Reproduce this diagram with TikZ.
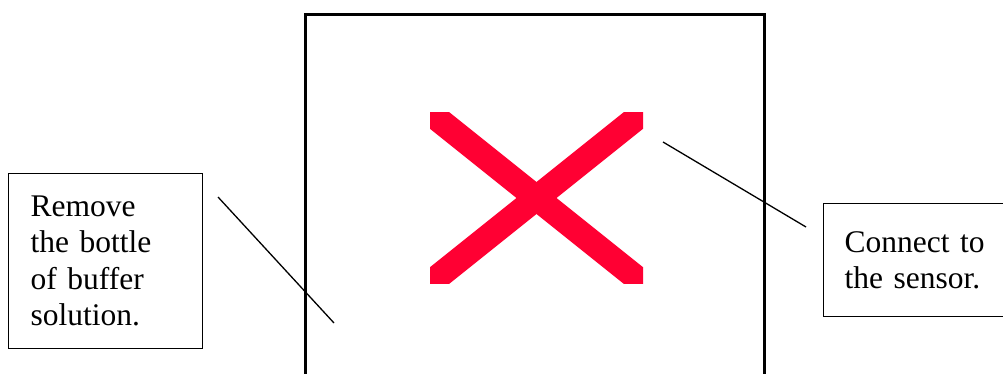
\documentclass[tikz,border=0pt]{standalone}
\usepackage{fontspec}
\setmainfont{Liberation Serif}
\usetikzlibrary{positioning}
\definecolor{crossRed}{RGB}{255,0,51}

\begin{document}
\begin{tikzpicture}[x=1pt, y=-1pt, every node/.style={font=\fontsize{31.5}{36.5}\selectfont}, note/.style={draw, line width=1.3pt, align=left, anchor=north west}]
    \useasboundingbox (0,0) rectangle (1003,374);
    % frame of the unit, open at the bottom
    \draw[line width=3pt] (305.5,390) -- (305.5,14.5) -- (764.5,14.5) -- (764.5,390);
    % red cross
    \begin{scope}
        \clip (430,113) rectangle (643,283);
        \draw[crossRed, line width=25pt] (409,96) -- (664,300);
        \draw[crossRed, line width=25pt] (409,300) -- (664,96);
    \end{scope}
    \node[note, text width=150pt, inner xsep=22pt, minimum height=175pt] (remove) at (8,173) {Remove\\the bottle\\of buffer\\solution.};
    \node[note, text width=150pt, inner xsep=21pt, minimum height=113pt] (sensor) at (823,203) {Connect to\\the sensor.};
    \coordinate (bottle) at (218,197);
    \coordinate (bottleEnd) at (334,323);
    \coordinate (port) at (663,142);
    \coordinate (portEnd) at (806,227);
    \draw[line width=1.3pt] (bottle) -- (bottleEnd);
    \draw[line width=1.3pt] (port) -- (portEnd);
\end{tikzpicture}
\end{document}
